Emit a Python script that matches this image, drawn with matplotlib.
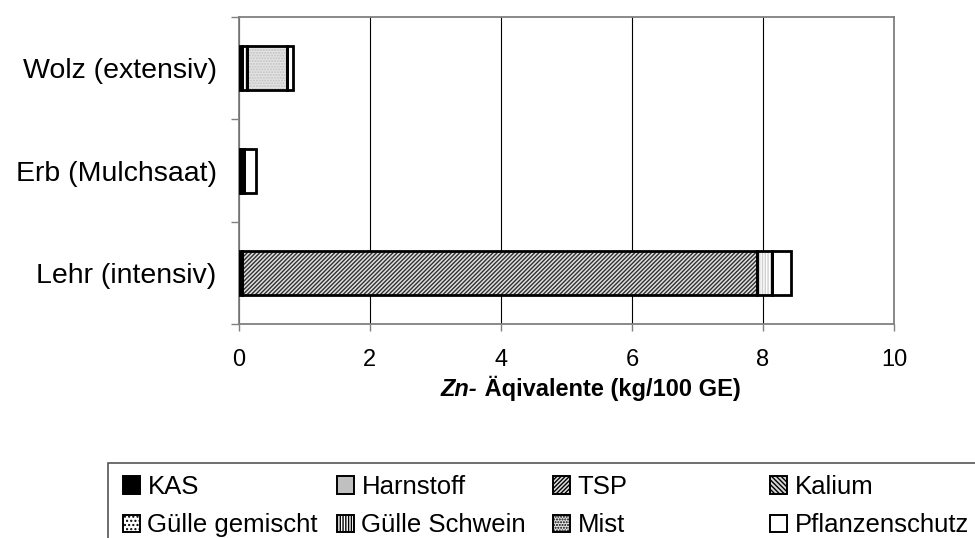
import numpy as np
import matplotlib
matplotlib.use("Agg")
import matplotlib.pyplot as plt
from matplotlib.patches import Patch, Rectangle
from matplotlib.offsetbox import TextArea, HPacker, AnchoredOffsetbox

plt.rcParams['font.family'] = ['Liberation Sans', 'DejaVu Sans']
plt.rcParams['hatch.linewidth'] = 1.0

# ---------------------------------------------------------
# data (Zn-Aequivalente, kg/100 GE)

categories = ["Lehr (intensiv)", "Erb (Mulchsaat)", "Wolz (extensiv)"]
components = ["KAS", "Harnstoff", "TSP", "Kalium",
              "Gülle gemischt", "Gülle Schwein", "Mist", "Pflanzenschutz"]

kas            = [0.05, 0.03, 0.05]
harnstoff      = [0.00, 0.00, 0.00]
tsp            = [7.86, 0.00, 0.00]
kalium         = [0.00, 0.00, 0.00]
guelle_gem     = [0.00, 0.00, 0.00]
guelle_schwein = [0.23, 0.05, 0.08]
mist           = [0.00, 0.00, 0.60]
pflanzenschutz = [0.29, 0.18, 0.09]

series = [kas, harnstoff, tsp, kalium, guelle_gem, guelle_schwein, mist, pflanzenschutz]
x_ticks = [0, 2, 4, 6, 8, 10]

# fill colour, hatch, hatch colour
styles = [
  ("black",   None,       "black"),
  ("#c0c0c0", None,       "#c0c0c0"),
  ("#e0e0e0", "////////", "#303030"),
  ("#d8d8d8", "\\\\\\\\\\\\\\", "#555555"),
  ("white",   "....",     "#b0b0b0"),
  ("white",   "||||||",   "#d0d0d0"),
  ("#e4e4e4", "......",   "#c0c0c0"),
  ("white",   None,       "white"),
]

# ---------------------------------------------------------

fig = plt.figure(figsize=(9.75, 5.38), dpi=100)
ax = fig.add_axes([0.245, 0.398, 0.672, 0.570])

y = np.arange(len(categories))
h = 0.43
left = np.zeros(len(categories))
handles = []
for vals, (fc, hatch, hc), name in zip(series, styles, components):
  vals = np.array(vals)
  ax.barh(y, vals, h, left=left, color=fc, hatch=hatch, edgecolor=hc,
          linewidth=0, zorder=3)
  m = vals > 0
  ax.barh(y[m], vals[m], h, left=left[m], fill=False, edgecolor="black",
          linewidth=2.0, zorder=4)
  left = left + vals
  handles.append(Patch(facecolor=fc, hatch=hatch, edgecolor="black",
                       linewidth=1.4, label=name))

ax.set_xlim(0, 10)
ax.set_ylim(-0.5, 2.5)
ax.set_xticks(x_ticks)
ax.set_xticklabels([str(t) for t in x_ticks])
ax.set_yticks([-0.5, 0.5, 1.5, 2.5])
ax.set_yticklabels([])
ax.set_yticks(y, minor=True)
ax.set_yticklabels(categories, minor=True)
ax.tick_params(axis="y", which="minor", length=0, pad=16, labelsize=20.5)
ax.tick_params(axis="y", which="major", length=6, color="#808080", width=1)
ax.tick_params(axis="x", length=5, color="#808080", width=1, pad=13, labelsize=17)
ax.grid(axis="x", color="black", linewidth=0.8, zorder=0)
ax.set_axisbelow(True)
for s in ax.spines.values():
  s.set_color("#808080")
  s.set_linewidth(1.3)

# axis title: italic "Zn-" then bold rest
t1 = TextArea("Zn-", textprops=dict(fontsize=17, fontweight="bold", fontstyle="italic"))
t2 = TextArea(" Äqivalente (kg/100 GE)", textprops=dict(fontsize=17, fontweight="bold"))
box = HPacker(children=[t1, t2], align="baseline", pad=0, sep=0)
anch = AnchoredOffsetbox(loc="center", child=box, frameon=False,
                         bbox_to_anchor=(0.537, -0.21), bbox_transform=ax.transAxes,
                         borderpad=0)
ax.add_artist(anch)

# legend: four equal columns, one frame round them
col_x = [123 / 975, 337 / 975, 553 / 975, 770 / 975]
for i, cx in enumerate(col_x):
  fig.legend(handles=[handles[i], handles[i + 4]], loc="upper left",
             bbox_to_anchor=(cx, 0.117), frameon=False,
             fontsize=18.5, handlelength=0.65, handleheight=0.65,
             handletextpad=0.3, labelspacing=0.55, borderpad=0,
             borderaxespad=0)
fig.patches.append(Rectangle((108 / 975, -0.05), 0.95, 0.05 + 1 - 463 / 538,
                             transform=fig.transFigure, fill=False,
                             edgecolor="#555555", linewidth=1.2))

fig.savefig("out.png", dpi=100)
